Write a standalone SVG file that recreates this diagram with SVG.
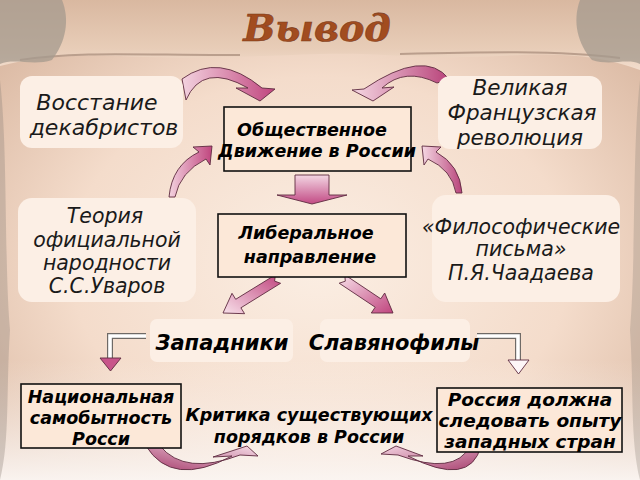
<svg xmlns="http://www.w3.org/2000/svg" width="640" height="480" viewBox="0 0 640 480">
<defs>
<radialGradient id="bg" cx="0.5" cy="0.55" r="0.65">
<stop offset="0" stop-color="#fbeee3"/>
<stop offset="0.6" stop-color="#f4dccb"/>
<stop offset="1" stop-color="#dcbba5"/>
</radialGradient>
<linearGradient id="bottomFade" x1="0" y1="0" x2="0" y2="1">
<stop offset="0" stop-color="#fbf4ef" stop-opacity="0"/>
<stop offset="1" stop-color="#fbf6f3" stop-opacity="0.95"/>
</linearGradient>
<linearGradient id="topBand" x1="0" y1="0" x2="0" y2="1">
<stop offset="0" stop-color="#d9b8a0"/>
<stop offset="0.7" stop-color="#e8cdb8"/>
<stop offset="1" stop-color="#f2ddcd"/>
</linearGradient>
<linearGradient id="pinkLR" x1="0" y1="0" x2="1" y2="0">
<stop offset="0" stop-color="#f3d2df"/>
<stop offset="1" stop-color="#c0457e"/>
</linearGradient>
<linearGradient id="pinkRL" x1="1" y1="0" x2="0" y2="0">
<stop offset="0" stop-color="#b8437a"/>
<stop offset="1" stop-color="#f5d8e3"/>
</linearGradient>
<linearGradient id="pinkTB" x1="0" y1="0" x2="0" y2="1">
<stop offset="0" stop-color="#f3d6e3"/>
<stop offset="1" stop-color="#c24a84"/>
</linearGradient>
<linearGradient id="pinkDiagL" x1="1" y1="0" x2="0" y2="1">
<stop offset="0" stop-color="#c0457e"/>
<stop offset="1" stop-color="#f8e1ea"/>
</linearGradient>
<linearGradient id="pinkDiagR" x1="0" y1="0" x2="1" y2="1">
<stop offset="0" stop-color="#f8e1ea"/>
<stop offset="1" stop-color="#c0457e"/>
</linearGradient>
<linearGradient id="pinkBL" x1="0" y1="1" x2="1" y2="0">
<stop offset="0" stop-color="#a8406f"/>
<stop offset="1" stop-color="#f5dbe6"/>
</linearGradient>
<linearGradient id="pinkBR" x1="1" y1="1" x2="0" y2="0">
<stop offset="0" stop-color="#a8406f"/>
<stop offset="1" stop-color="#f3d3e0"/>
</linearGradient>
<style>
.soft{fill:#fcefe5;stroke:none}
.framed{fill:#fce8d8;stroke:#111;stroke-width:1.6}
.t{font-family:"DejaVu Sans",Verdana,sans-serif;font-style:italic;font-size:20.5px;fill:#1a1a1a;text-anchor:middle}
.b{font-family:"DejaVu Sans",Verdana,sans-serif;font-style:italic;font-weight:bold;font-size:17.5px;fill:#000;text-anchor:middle}
.arr{stroke:#5e2a40;stroke-width:0.9;stroke-linejoin:round}
.title{font-family:"DejaVu Serif","Liberation Serif",serif;font-style:italic;font-weight:bold;font-size:38px;text-anchor:middle}
</style>
</defs>

<!-- background parchment -->
<rect x="0" y="0" width="640" height="480" fill="url(#bg)"/>
<rect x="0" y="360" width="640" height="120" fill="url(#bottomFade)"/>
<path d="M0,0 H640 V70 C600,55 560,52 500,56 C420,60 380,52 320,54 C250,56 200,60 120,56 C70,54 30,58 0,66 Z" fill="url(#topBand)"/>
<path d="M20,60 C80,50 160,56 240,55 M400,54 C480,52 560,50 620,58" fill="none" stroke="#9a7d6c" stroke-width="2" opacity="0.6"/>
<path d="M0,0 H62 C70,20 66,42 52,60 C34,66 14,58 0,64 Z" fill="#a49a8e" opacity="0.75"/>
<path d="M640,0 H580 C572,22 578,44 592,60 C610,66 628,58 640,64 Z" fill="#a49a8e" opacity="0.75"/>
<path d="M0,80 C8,150 4,260 10,330 C6,390 10,440 0,480 Z" fill="#8e857c" opacity="0.35"/>
<path d="M640,80 C632,150 636,260 630,330 C634,390 630,440 640,480 Z" fill="#8e857c" opacity="0.3"/>

<!-- title -->
<text x="317" y="41" class="title" fill="#a24c1f" stroke="#7a3a1a" stroke-width="0.6">Вывод</text>

<!-- connectors -->
<g id="connectors">
<path class="arr" fill="url(#pinkLR)" d="M182,79 Q218.5,52 262,88 L275,89 L260,101 L236,88 L248,88 Q202.5,62 186,100 Z"/>
<path class="arr" fill="url(#pinkRL)" d="M449,79 Q424.5,48 364,89 L352,90 L373,101 L394,87 L382,88 Q405,67 437,83 Z"/>
<path class="arr" fill="url(#pinkLR)" d="M169,197 Q172,165 199,152 L193,147 L212,146 L210,165 L206,159 Q180,172 175,197 Z"/>
<path class="arr" fill="url(#pinkRL)" d="M462,193 Q460,165 436,152 L441,147 L422,146 L424,165 L428,159 Q452,170 456,193 Z"/>
<path class="arr" fill="url(#pinkTB)" d="M295,175 H329 V195 H347 L312,204 L277,195 H295 Z"/>
<path class="arr" fill="url(#pinkDiagL)" d="M280.6,283.3 L240.9,307.8 L244.6,313.7 L223,313 L232,293.3 L235.7,299.3 L275.4,274.8 L274.6,281.1 Z"/>
<path class="arr" fill="url(#pinkDiagR)" d="M339.2,283.2 L375.2,307.2 L371.3,313 L393,313 L384.7,293 L380.8,298.8 L344.8,274.8 L345.3,281.2 Z"/>
<path d="M146,336 H110 V360" fill="none" stroke="#6f6a66" stroke-width="6"/>
<path d="M146,336 H110 V360" fill="none" stroke="#ffffff" stroke-width="3.6"/>
<path class="arr" fill="#c8558a" d="M100,358 H121 L110.5,371 Z"/>
<path d="M477,336 H518 V362" fill="none" stroke="#6f6a66" stroke-width="6"/>
<path d="M477,336 H518 V362" fill="none" stroke="#ffffff" stroke-width="3.6"/>
<path class="arr" fill="#fdf6f8" d="M508,360 H529 L518.5,374 Z"/>
<path class="arr" fill="url(#pinkBL)" d="M146,446 Q172,488 232,456 L213,457 L247,446 L258,456 L240,455 Q185,476 160,446 Z"/>
<path class="arr" fill="url(#pinkBR)" d="M481,446 Q470,488 408,456 L423,456 L396,446 L381,454 L398,455 Q455,476 470,446 Z"/>
</g>

<!-- nodes -->
<g id="n-dekabristy">
<rect class="soft" x="20" y="76" width="163" height="72" rx="12"/>
<text class="t" x="97" y="110" style="font-size:22px">Восстание</text>
<text class="t" x="104" y="135" style="font-size:22px">декабристов</text>
</g>
<g id="n-revolution">
<rect class="soft" x="438" y="76" width="164" height="73" rx="12"/>
<text class="t" x="520" y="95" style="font-size:21.5px">Великая</text>
<text class="t" x="522" y="120" style="font-size:21.5px">Французская</text>
<text class="t" x="520" y="145" style="font-size:21.5px">революция</text>
</g>
<g id="n-movement">
<rect class="framed" x="224" y="107" width="187" height="64"/>
<text class="b" x="312" y="136">Общественное</text>
<text class="b" x="317" y="157">Движение в России</text>
</g>
<g id="n-uvarov">
<rect class="soft" x="18" y="198" width="178" height="104" rx="14"/>
<text class="t" x="105" y="223">Теория</text>
<text class="t" x="107" y="247">официальной</text>
<text class="t" x="107" y="270">народности</text>
<text class="t" x="107" y="293">С.С.Уваров</text>
</g>
<g id="n-chaadaev">
<rect class="soft" x="432" y="195" width="188" height="107" rx="14"/>
<text class="t" x="521" y="234">«Философические</text>
<text class="t" x="521" y="256">письма»</text>
<text class="t" x="521" y="280">П.Я.Чаадаева</text>
</g>
<g id="n-liberal">
<rect class="framed" x="218" y="214" width="188" height="63"/>
<text class="b" x="306" y="239">Либеральное</text>
<text class="b" x="310" y="263">направление</text>
</g>
<g id="n-zapadniki">
<rect class="soft" x="150" y="319" width="143" height="43" rx="7"/>
<text class="b" x="222" y="350" style="font-size:21px">Западники</text>
</g>
<g id="n-slavyanofily">
<rect class="soft" x="320" y="319" width="150" height="43" rx="7"/>
<text class="b" x="394" y="350" style="font-size:21px">Славянофилы</text>
</g>
<g id="n-national">
<rect class="framed" x="21" y="384" width="160" height="64"/>
<text class="b" x="101" y="403">Национальная</text>
<text class="b" x="101" y="424">самобытность</text>
<text class="b" x="101" y="445">Росси</text>
</g>
<g id="n-critique">
<text class="b" x="309" y="421">Критика существующих</text>
<text class="b" x="309" y="443">порядков в России</text>
</g>
<g id="n-west">
<rect class="framed" x="437" y="388" width="185" height="64"/>
<text class="b" x="530" y="406" style="font-size:18.5px">Россия должна</text>
<text class="b" x="530" y="427" style="font-size:18.5px">следовать опыту</text>
<text class="b" x="530" y="448" style="font-size:18.5px">западных стран</text>
</g>
</svg>
